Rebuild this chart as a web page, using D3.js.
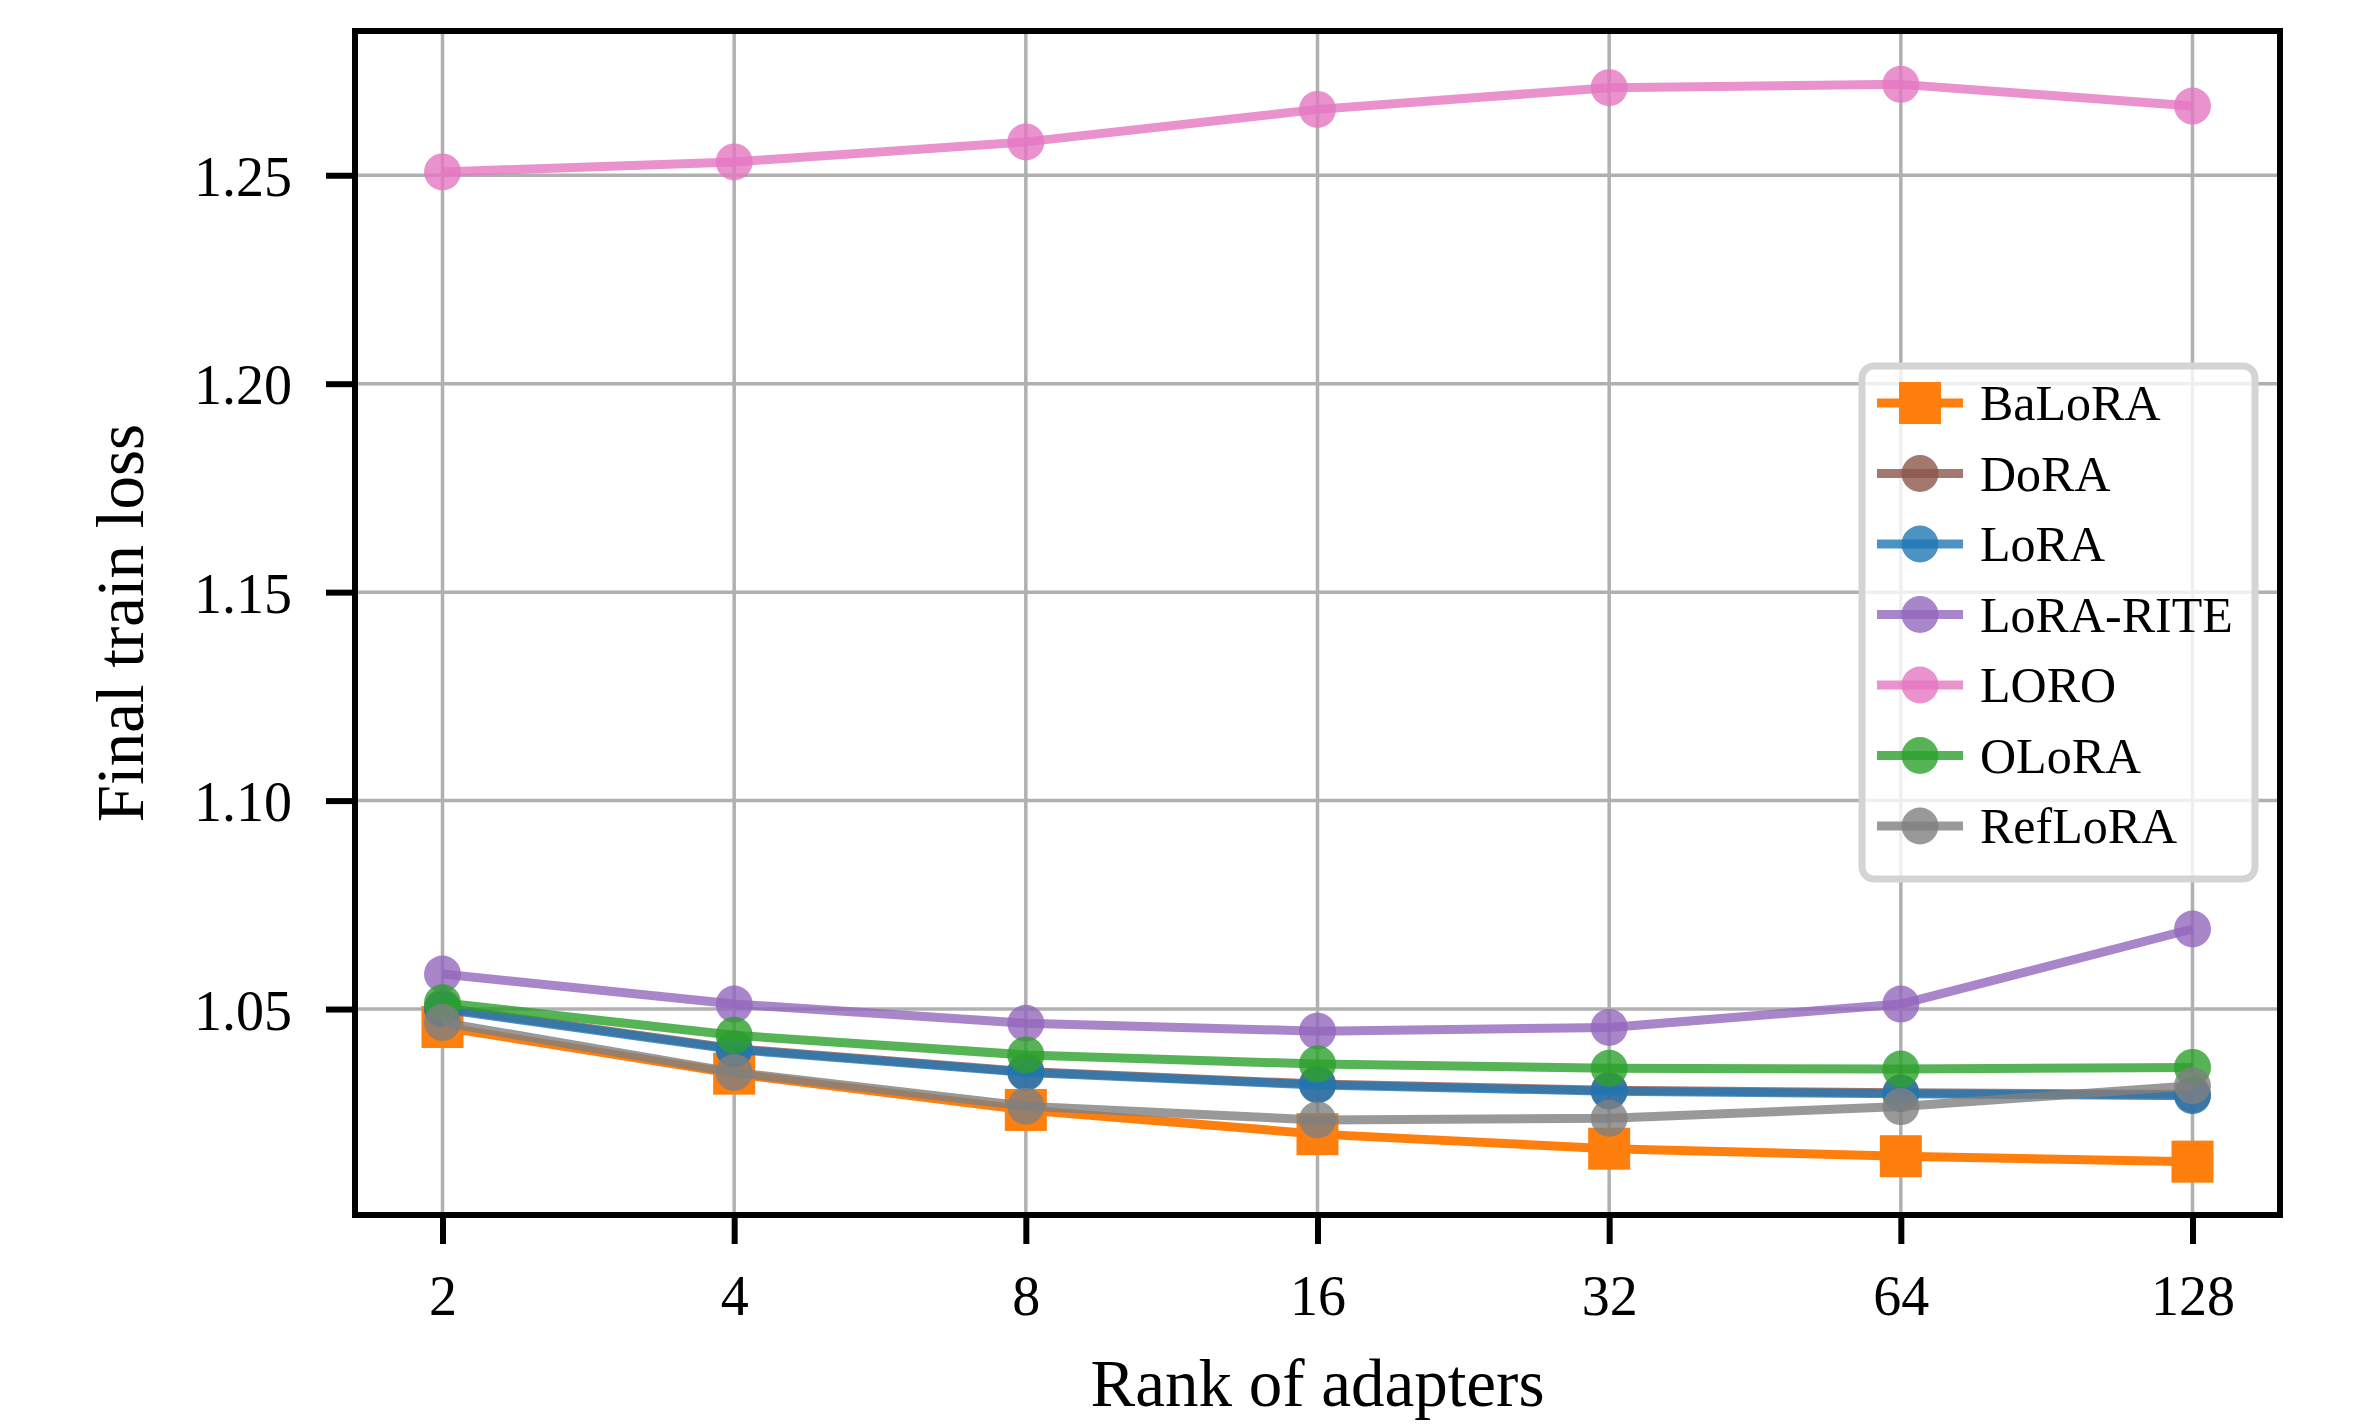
<!DOCTYPE html>
<html>
<head>
<meta charset="utf-8">
<script src="https://cdn.jsdelivr.net/npm/d3@7"></script>
<style>
  html, body { margin: 0; padding: 0; background: #fff; }
  svg { display: block; }
  text { font-family: "Liberation Serif", "Times New Roman", serif; fill: #000; }
</style>
</head>
<body>
<svg id="chart" width="2374" height="1425"></svg>
<script>
const ranks = [2, 4, 8, 16, 32, 64, 128]
const yTicks = [1.05, 1.10, 1.15, 1.20, 1.25]

const methods = ['BaLoRA', 'DoRA', 'LoRA', 'LoRA-RITE', 'LORO', 'OLoRA', 'RefLoRA']
const balora = [1.0457, 1.0345, 1.0258, 1.0200, 1.0165, 1.0147, 1.0134]
const dora = [1.0503, 1.0405, 1.0350, 1.0320, 1.0305, 1.0299, 1.0295]
const lora = [1.0500, 1.0403, 1.0348, 1.0318, 1.0303, 1.0297, 1.0292]
const loraRite = [1.0584, 1.0512, 1.0466, 1.0447, 1.0456, 1.0512, 1.0692]
const loro = [1.2508, 1.2532, 1.2580, 1.2658, 1.2710, 1.2718, 1.2666]
const olora = [1.0515, 1.0437, 1.0390, 1.0368, 1.0358, 1.0356, 1.0360]
const reflora = [1.0468, 1.0348, 1.0267, 1.0234, 1.0238, 1.0266, 1.0316]

const seriesValues = [balora, dora, lora, loraRite, loro, olora, reflora]
const colors = ['#ff7f0e', '#8c564b', '#1f77b4', '#9467bd', '#e377c2', '#2ca02c', '#7f7f7f']

const series = methods.map((name, i) => ({
  name,
  color: colors[i],
  square: i === 0,
  alpha: i === 0 ? 1 : 0.8,
  points: ranks.map((r, j) => ({ x: r, y: seriesValues[i][j] })),
}))

// plot box (pixels)
const box = { left: 355, right: 2280, top: 31, bottom: 1215 }

const x = d3.scaleLog().base(2)
  .domain([2 / Math.pow(2, 0.3), 128 * Math.pow(2, 0.3)])
  .range([box.left, box.right])
const y = d3.scaleLinear()
  .domain([1.0006, 1.2846])
  .range([box.bottom, box.top])

const svg = d3.select('#chart')
svg.append('rect').attr('width', 2374).attr('height', 1425).attr('fill', '#fff')

// grid
const grid = svg.append('g').attr('class', 'grid')
grid.selectAll('line.gx').data(ranks).enter().append('line')
  .attr('x1', d => x(d)).attr('x2', d => x(d))
  .attr('y1', box.top).attr('y2', box.bottom)
  .attr('stroke', '#b0b0b0').attr('stroke-width', 3.5)
grid.selectAll('line.gy').data(yTicks).enter().append('line')
  .attr('x1', box.left).attr('x2', box.right)
  .attr('y1', d => y(d)).attr('y2', d => y(d))
  .attr('stroke', '#b0b0b0').attr('stroke-width', 3.5)

// lines + markers, drawn per series in order
const line = d3.line().x(d => x(d.x)).y(d => y(d.y))
const plot = svg.append('g').attr('class', 'plot')
series.forEach(s => {
  const g = plot.append('g')
  g.append('path')
    .attr('d', line(s.points))
    .attr('fill', 'none')
    .attr('stroke', s.color)
    .attr('stroke-width', 9)
    .attr('stroke-linejoin', 'round')
    .attr('stroke-opacity', s.alpha)
  if (s.square) {
    g.selectAll('rect').data(s.points).enter().append('rect')
      .attr('x', d => x(d.x) - 21).attr('y', d => y(d.y) - 21)
      .attr('width', 42).attr('height', 42)
      .attr('fill', s.color).attr('fill-opacity', s.alpha)
  } else {
    g.selectAll('circle').data(s.points).enter().append('circle')
      .attr('cx', d => x(d.x)).attr('cy', d => y(d.y))
      .attr('r', 18.5)
      .attr('fill', s.color).attr('fill-opacity', s.alpha)
  }
})

// spines
svg.append('rect')
  .attr('x', box.left).attr('y', box.top)
  .attr('width', box.right - box.left).attr('height', box.bottom - box.top)
  .attr('fill', 'none').attr('stroke', '#000').attr('stroke-width', 6)

// axes
const xAxis = svg.append('g')
  .attr('transform', `translate(0,${box.bottom})`)
  .call(d3.axisBottom(x).tickValues(ranks).tickFormat(d3.format('d')).tickSize(29).tickPadding(0))
xAxis.select('.domain').remove()
xAxis.selectAll('.tick line').attr('stroke', '#000').attr('stroke-width', 6)
xAxis.selectAll('.tick text')
  .attr('font-size', 56).attr('dy', null).attr('y', 100)
  .attr('font-family', '"Liberation Serif", "Times New Roman", serif')

const yAxis = svg.append('g')
  .attr('transform', `translate(${box.left},0)`)
  .call(d3.axisLeft(y).tickValues(yTicks).tickFormat(d3.format('.2f')).tickSize(29).tickPadding(0))
yAxis.select('.domain').remove()
yAxis.selectAll('.tick line').attr('stroke', '#000').attr('stroke-width', 6)
yAxis.selectAll('.tick text')
  .attr('font-size', 56).attr('dy', null).attr('x', -63).attr('y', 20)
  .attr('font-family', '"Liberation Serif", "Times New Roman", serif')

// axis titles
svg.append('text')
  .attr('x', (box.left + box.right) / 2).attr('y', 1406)
  .attr('text-anchor', 'middle').attr('font-size', 67)
  .text('Rank of adapters')
svg.append('text')
  .attr('transform', `translate(143,${(box.top + box.bottom) / 2}) rotate(-90)`)
  .attr('text-anchor', 'middle').attr('font-size', 67)
  .text('Final train loss')

// legend
const legend = svg.append('g').attr('class', 'legend')
legend.append('rect')
  .attr('x', 1862).attr('y', 366).attr('width', 393).attr('height', 513)
  .attr('rx', 12).attr('ry', 12)
  .attr('fill', '#fff').attr('fill-opacity', 0.8)
  .attr('stroke', '#d4d4d4').attr('stroke-width', 7)
const rowH = 70.5
series.forEach((s, i) => {
  const cy = 403 + i * rowH
  const row = legend.append('g')
  row.append('line')
    .attr('x1', 1877).attr('x2', 1963).attr('y1', cy).attr('y2', cy)
    .attr('stroke', s.color).attr('stroke-width', 9).attr('stroke-opacity', s.alpha)
  if (s.square) {
    row.append('rect').attr('x', 1899).attr('y', cy - 21).attr('width', 42).attr('height', 42)
      .attr('fill', s.color)
  } else {
    row.append('circle').attr('cx', 1920).attr('cy', cy).attr('r', 18.5)
      .attr('fill', s.color).attr('fill-opacity', s.alpha)
  }
  row.append('text').attr('x', 1980).attr('y', cy + 17)
    .attr('font-size', 50).text(s.name)
})
</script>
</body>
</html>
